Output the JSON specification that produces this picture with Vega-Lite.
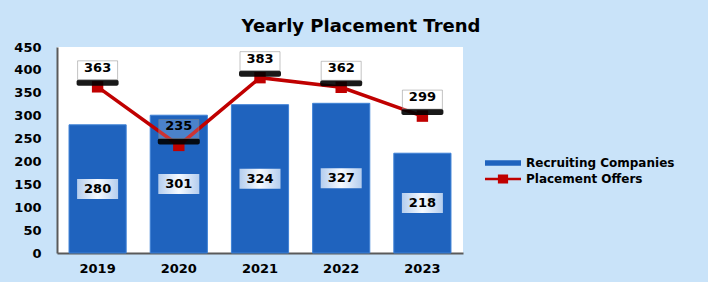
{
  "$schema": "https://vega.github.io/schema/vega-lite/v6.json",
  "autosize": "none",
  "width": 406,
  "height": 206,
  "padding": {"left": 57, "top": 47, "right": 245, "bottom": 29},
  "background": "#C9E3F9",
  "title": {
    "text": "Yearly Placement Trend",
    "font": "DejaVu Sans",
    "fontSize": 18,
    "fontWeight": "bold",
    "color": "#000000",
    "anchor": "middle",
    "dx": 101,
    "offset": 5
  },
  "config": {
    "view": {"fill": "white", "stroke": null},
    "axis": {
      "labelFont": "DejaVu Sans",
      "labelFontWeight": "bold",
      "labelFontSize": 13,
      "labelColor": "#000000",
      "ticks": false,
      "grid": false,
      "title": null,
      "domainColor": "#5A5A5A",
      "domainWidth": 2
    },
    "legend": {
      "padding": 0,
      "title": null,
      "orient": "none",
      "symbolSize": 144,
      "labelFont": "DejaVu Sans",
      "labelFontWeight": "bold",
      "labelFontSize": 12,
      "labelColor": "#000000",
      "labelOffset": 17
    }
  },
  "data": {
    "values": [
      {"year": "2019", "companies": 280, "offers": 363},
      {"year": "2020", "companies": 301, "offers": 235},
      {"year": "2021", "companies": 324, "offers": 383},
      {"year": "2022", "companies": 327, "offers": 362},
      {"year": "2023", "companies": 218, "offers": 299}
    ]
  },
  "encoding": {
    "x": {
      "field": "year",
      "type": "nominal",
      "scale": {"paddingInner": 0.296, "paddingOuter": 0.148},
      "axis": {"labelAngle": 0, "labelPadding": 9}
    }
  },
  "layer": [
    {
      "mark": {"type": "bar", "stroke": "#3F82D6", "strokeWidth": 1},
      "encoding": {
        "y": {
          "field": "companies",
          "type": "quantitative",
          "scale": {"domain": [0, 450], "nice": false},
          "axis": {"values": [0, 50, 100, 150, 200, 250, 300, 350, 400, 450], "labelPadding": 16}
        },
        "color": {
          "datum": "Recruiting Companies",
          "type": "nominal",
          "scale": {"domain": ["Recruiting Companies"], "range": ["#1F63BE"]},
          "legend": {
            "legendX": 440,
            "legendY": 110,
            "symbolType": "M-3,-0.45H3V0.45H-3Z",
            "symbolStrokeWidth": 0
          }
        }
      }
    },
    {
      "mark": {
        "type": "rect",
        "width": 41,
        "height": 20,
        "fill": {
          "gradient": "linear",
          "x1": 0, "x2": 1, "y1": 0, "y2": 0,
          "stops": [
            {"offset": 0, "color": "#B4CDEE"},
            {"offset": 0.5, "color": "#F6FAFF"},
            {"offset": 1, "color": "#B4CDEE"}
          ]
        }
      },
      "encoding": {
        "y": {"field": "companies", "type": "quantitative", "scale": {"domain": [0, 900], "nice": false}, "axis": null}
      }
    },
    {
      "mark": {"type": "text", "font": "DejaVu Sans", "fontWeight": "bold", "fontSize": 13, "color": "#000000", "baseline": "middle"},
      "encoding": {
        "y": {"field": "companies", "type": "quantitative", "scale": {"domain": [0, 900], "nice": false}, "axis": null},
        "text": {"field": "companies", "type": "quantitative"}
      }
    },
    {
      "mark": {"type": "line", "color": "#C00000", "strokeWidth": 3.5},
      "encoding": {
        "y": {"field": "offers", "type": "quantitative", "scale": {"domain": [0, 450], "nice": false}, "axis": null}
      }
    },
    {
      "mark": {"type": "square", "size": 130, "opacity": 1, "filled": true, "strokeWidth": 0},
      "encoding": {
        "y": {"field": "offers", "type": "quantitative", "scale": {"domain": [0, 450], "nice": false}, "axis": null},
        "fill": {
          "datum": "Placement Offers",
          "type": "nominal",
          "scale": {"domain": ["Placement Offers"], "range": ["#C00000"]},
          "legend": {
            "legendX": 440,
            "legendY": 126,
            "symbolType": "M-3,-0.22H3V0.22H-3Z M-0.85,-0.75H0.85V0.75H-0.85Z",
            "symbolStrokeWidth": 0
          }
        }
      }
    },
    {
      "mark": {"type": "rect", "width": 42, "height": 6, "yOffset": -4, "color": "#000000", "cornerRadius": 2, "opacity": 0.9},
      "encoding": {
        "y": {"field": "offers", "type": "quantitative", "scale": {"domain": [0, 450], "nice": false}, "axis": null}
      }
    },
    {
      "mark": {"type": "rect", "width": 40, "height": 19, "yOffset": -16.5, "fill": "white", "fillOpacity": 0.2, "stroke": "#8A8A8A", "strokeOpacity": 0.5, "strokeWidth": 1},
      "encoding": {
        "y": {"field": "offers", "type": "quantitative", "scale": {"domain": [0, 450], "nice": false}, "axis": null}
      }
    },
    {
      "mark": {"type": "text", "font": "DejaVu Sans", "fontWeight": "bold", "fontSize": 13, "color": "#000000", "baseline": "middle", "dy": -19},
      "encoding": {
        "y": {"field": "offers", "type": "quantitative", "scale": {"domain": [0, 450], "nice": false}, "axis": null},
        "text": {"field": "offers", "type": "quantitative"}
      }
    }
  ],
  "resolve": {"scale": {"y": "independent"}}
}
